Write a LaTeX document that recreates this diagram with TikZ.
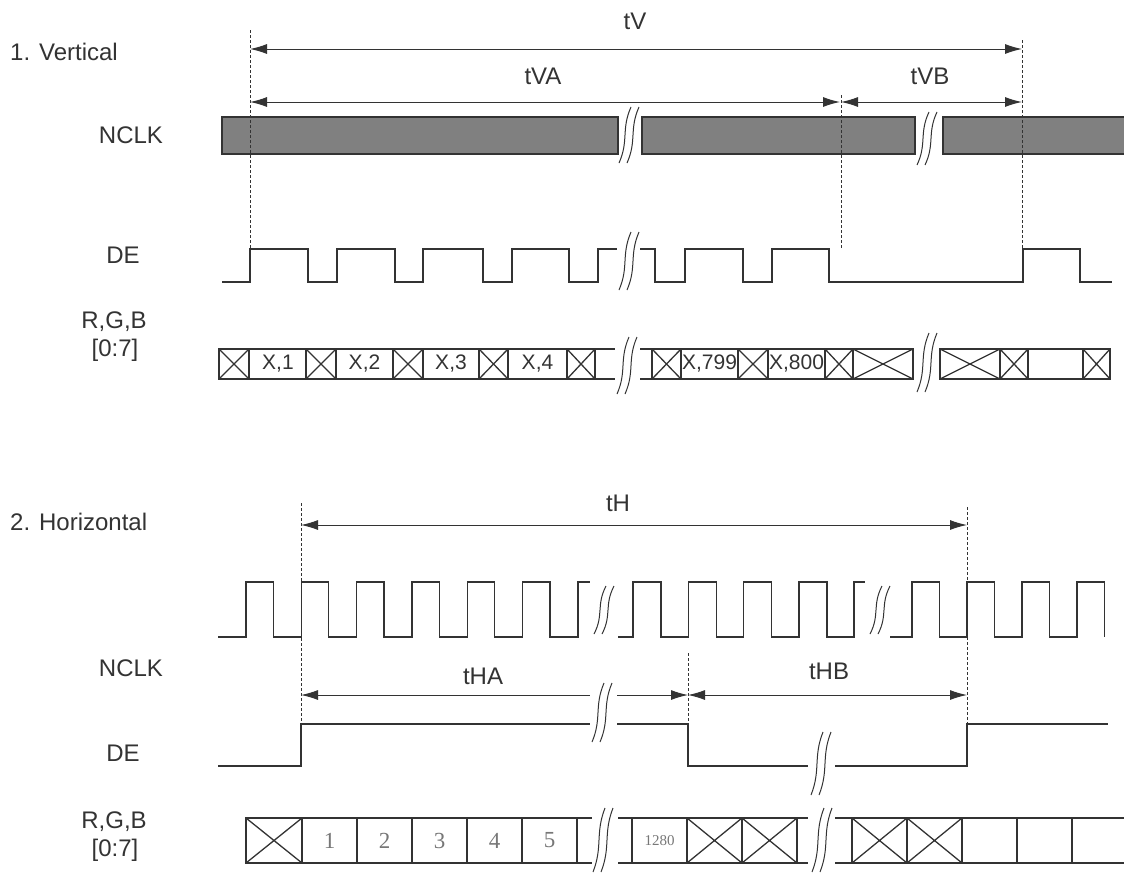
\documentclass[tikz,border=0pt]{standalone}
\usepackage{fontspec}
\setmainfont{Liberation Sans}
\newfontfamily\numfont{Liberation Serif}
\usetikzlibrary{arrows.meta}
\definecolor{ink}{HTML}{333333}
\definecolor{barfill}{HTML}{808080}
\definecolor{numgray}{HTML}{777777}
\tikzset{
  sig/.style={draw=ink, line width=1.3pt, line join=miter},
  bar/.style={sig, fill=barfill},
  guide/.style={draw=ink, line width=0.9pt, dash pattern=on 3pt off 2pt},
  tip/.style={Latex[length=17pt,width=10pt]},
  dim/.style={draw=ink, line width=1pt, {Latex[length=17pt,width=10pt]}-{Latex[length=17pt,width=10pt]}},
  dimleft/.style={draw=ink, line width=1pt, {Latex[length=17pt,width=10pt]}-},
  dimright/.style={draw=ink, line width=1pt, -{Latex[length=17pt,width=10pt]}},
  brkline/.style={draw=ink, line width=1pt},
  lbl/.style={inner sep=0pt, text=ink, font=\fontsize{24}{28}\selectfont},
  cell/.style={inner sep=0pt, text=ink, font=\fontsize{21}{24}\selectfont},
  numlbl/.style={inner sep=0pt, text=numgray, font=\numfont\fontsize{23}{26}\selectfont},
}
% break mark: x, y top, y bottom
\newcommand{\sigbreak}[3]{%
  \foreach \dx in {-4,4}{
    \draw[brkline] ({#1+\dx+6},#2) .. controls ({#1+\dx-4},{#2+0.4*(#3-#2)}) and ({#1+\dx+4},{#3-0.4*(#3-#2)}) .. ({#1+\dx-6},#3);
  }}
% data cell with cross: x left, x right, y top, y bottom
\newcommand{\crosscell}[4]{%
  \draw[sig] (#1,#3) rectangle (#2,#4);
  \draw[sig] (#1,#3) -- (#2,#4) (#1,#4) -- (#2,#3);}

\begin{document}
\begin{tikzpicture}[x=1pt,y=-1pt]
\useasboundingbox (0,0) rectangle (1124,873);

% row labels
\node[lbl, anchor=west] (vtitle) at (10,52) {1. Vertical};
\node[lbl] (vnclk) at (131,135) {NCLK};
\node[lbl] (vde) at (123,255) {DE};
\node[lbl] (vrgb) at (114,322) {R,G,B};
\node[lbl] (vbits) at (115,350) {[0:7]};
\node[lbl, anchor=west] (htitle) at (10,522) {2. Horizontal};
\node[lbl] (hnclk) at (131,668) {NCLK};
\node[lbl] (hde) at (123,753) {DE};
\node[lbl] (hrgb) at (114,822) {R,G,B};
\node[lbl] (hbits) at (115,850) {[0:7]};

% ---- vertical timing ----
\draw[bar] (222,117) rectangle (618,154);
\draw[bar] (642,117) rectangle (915,154);
\fill[barfill] (943,117) rectangle (1124,154);
\draw[sig] (1124,117) -- (943,117) -- (943,154) -- (1124,154);
\sigbreak{629}{107}{163}
\sigbreak{927}{112}{165}

% DE
\draw[sig] (222,282) -- (250,282) -- (250,249) -- (308,249) -- (308,282) -- (337,282) -- (337,249) -- (395,249) -- (395,282) -- (423,282) -- (423,249) -- (483,249) -- (483,282) -- (512,282) -- (512,249) -- (569,249) -- (569,282) -- (598,282) -- (598,249) -- (617,249);
\draw[sig] (640,249) -- (655,249) -- (655,282) -- (685,282) -- (685,249) -- (743,249) -- (743,282) -- (772,282) -- (772,249) -- (829,249) -- (829,282) -- (1023,282) -- (1023,249) -- (1080,249) -- (1080,282) -- (1112,282);
\sigbreak{629}{232}{290}

% R,G,B
\draw[sig] (219,349) -- (615,349) (219,379) -- (615,379);
\draw[sig] (640,349) -- (913,349) (640,379) -- (913,379);
\draw[sig] (940,349) -- (1110,349) (940,379) -- (1110,379);
\foreach \a/\b in {219/249,306/336,393/423,479/508,567/595,652/681,738/768,825/853,853/913,940/1000,1000/1028,1083/1110}
  \crosscell{\a}{\b}{349}{379};
\node[cell] (vx1) at (278,364) {X,1};
\node[cell] (vx2) at (364.5,364) {X,2};
\node[cell] (vx3) at (451,364) {X,3};
\node[cell] (vx4) at (537.5,364) {X,4};
\node[cell] (vx799) at (709.5,364) {X,799};
\node[cell] (vx800) at (796.5,364) {X,800};
\sigbreak{627}{337}{394}
\sigbreak{927}{333}{392}

% dimensions
\coordinate (tvl) at (250,49);
\coordinate (tvr) at (1022,49);
\coordinate (tval) at (250,102);
\coordinate (tvar) at (840,102);
\coordinate (tvbl) at (841,102);
\coordinate (tvbr) at (1022,102);
\draw[dim] (tvl) -- (tvr);
\draw[dim] (tval) -- (tvar);
\draw[dim] (tvbl) -- (tvbr);
\node[lbl] (tv) at (635,21) {tV};
\node[lbl] (tva) at (543,76) {tVA};
\node[lbl] (tvb) at (930,76) {tVB};
\coordinate (g1t) at (250,30);
\coordinate (g1b) at (250,249);
\coordinate (g2t) at (841,95);
\coordinate (g2b) at (841,249);
\coordinate (g3t) at (1022,40);
\coordinate (g3b) at (1022,249);
\draw[guide] (g1t) -- (g1b);
\draw[guide] (g2t) -- (g2b);
\draw[guide] (g3t) -- (g3b);

% ---- horizontal timing ----
% NCLK
\draw[sig] (218,637) foreach \k in {0,...,5} { -- ({246+55.3*\k},637) -- ({246+55.3*\k},582) -- ({273.5+55.3*\k},582) -- ({273.5+55.3*\k},637) } -- (578,637) -- (578,582) -- (590,582);
\draw[sig] (618,637) foreach \k in {0,...,3} { -- ({633+55.3*\k},637) -- ({633+55.3*\k},582) -- ({661+55.3*\k},582) -- ({661+55.3*\k},637) } -- (854,637) -- (854,582) -- (865,582);
\draw[sig] (890,637) foreach \k in {0,...,3} { -- ({912+55*\k},637) -- ({912+55*\k},582) -- ({939.5+55*\k},582) -- ({939.5+55*\k},637) };
\sigbreak{604}{586}{634}
\sigbreak{880}{586}{634}

% DE
\draw[sig] (218,766) -- (301,766) -- (301,724) -- (590,724);
\draw[sig] (617,724) -- (688,724) -- (688,766) -- (808,766);
\draw[sig] (835,766) -- (967,766) -- (967,724) -- (1108,724);
\sigbreak{602}{683}{742}
\sigbreak{821}{732}{795}

% R,G,B
\draw[sig] (246,818) -- (592,818) (246,863) -- (592,863);
\draw[sig] (618,818) -- (808,818) (618,863) -- (808,863);
\draw[sig] (835,818) -- (1124,818) (835,863) -- (1124,863);
\foreach \x in {246,302,357,412,467,522,577,632,687,742,797,852,907,962,1017,1072}
  \draw[sig] (\x,818) -- (\x,863);
\foreach \a/\b in {246/302,687/742,742/797,852/907,907/962}
  \crosscell{\a}{\b}{818}{863};
\node[numlbl] (hn1) at (329.5,840.5) {1};
\node[numlbl] (hn2) at (384.5,840.5) {2};
\node[numlbl] (hn3) at (439.5,840.5) {3};
\node[numlbl] (hn4) at (494.5,840.5) {4};
\node[numlbl] (hn5) at (549.5,840.5) {5};
\node[numlbl, font=\numfont\fontsize{15}{18}\selectfont] (hn1280) at (659.5,840.5) {1280};
\sigbreak{603}{808}{872}
\sigbreak{822}{808}{872}

% dimensions
\coordinate (thl) at (301,525);
\coordinate (thr) at (967,525);
\coordinate (thal) at (301,695);
\coordinate (thabrk) at (590,695);
\coordinate (thares) at (617,695);
\coordinate (thar) at (688,695);
\coordinate (thbr) at (967,695);
\draw[dim] (thl) -- (thr);
\draw[dimleft] (thal) -- (thabrk);
\draw[dimright] (thares) -- (thar);
\draw[dim] (thar) -- (thbr);
\node[lbl] (th) at (618,503) {tH};
\node[lbl] (tha) at (483,676) {tHA};
\node[lbl] (thb) at (829,671) {tHB};
\coordinate (h1t) at (301,503);
\coordinate (h1b) at (301,724);
\coordinate (h2t) at (688,653);
\coordinate (h2b) at (688,724);
\coordinate (h3t) at (967,507);
\coordinate (h3b) at (967,724);
\draw[guide] (h1t) -- (h1b);
\draw[guide] (h2t) -- (h2b);
\draw[guide] (h3t) -- (h3b);
\end{tikzpicture}
\end{document}
